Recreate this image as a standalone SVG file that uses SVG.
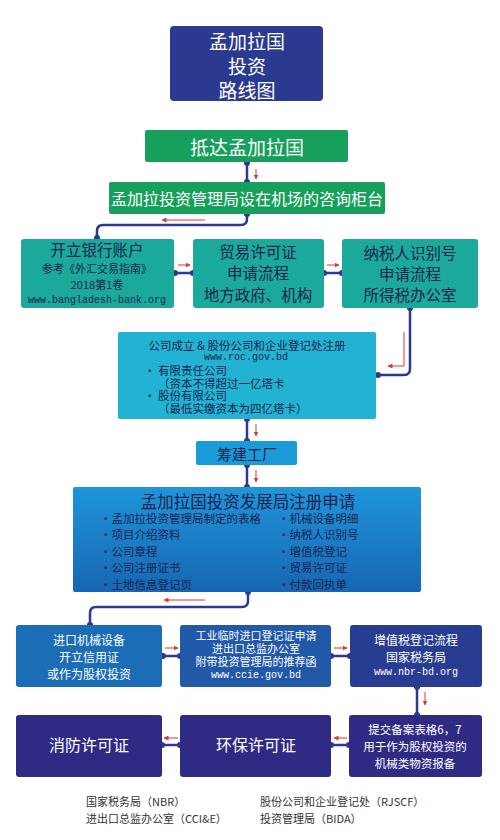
<svg xmlns="http://www.w3.org/2000/svg" width="500" height="840" viewBox="0 0 500 840">
<style>
text{font-family:"Noto Sans CJK SC","Liberation Sans",sans-serif;text-anchor:middle;dominant-baseline:central}
.w{fill:#ffffff}
.d{fill:#1b2550}
.m{font-family:"Liberation Mono","DejaVu Sans Mono",monospace}
.l{text-anchor:start}
.cn{fill:none;stroke:#2b3990;stroke-width:2.5}
.dot{fill:#2b3990}
.ra{fill:none;stroke:#d63a3a;stroke-width:1;marker-end:url(#ah)}
</style>
<defs>
<marker id="ah" viewBox="0 0 10 10" refX="9" refY="5" markerWidth="5" markerHeight="5" orient="auto">
<path d="M0,0 L10,5 L0,10 z" fill="#d63a3a"/>
</marker>
<linearGradient id="bg" x1="0" y1="0" x2="0" y2="1">
<stop offset="0" stop-color="#1f95da"/>
<stop offset="1" stop-color="#1766b2"/>
</linearGradient>
</defs>
<rect width="500" height="840" fill="#ffffff"/>

<g id="connectors">
<path class="cn" d="M247,162 V182"/>
<circle class="dot" cx="247" cy="163" r="3"/><circle class="dot" cx="247" cy="182" r="3"/>
<path class="cn" d="M247,214 V219 Q247,225 241,225 H103 Q97,225 97,231 V239"/>
<circle class="dot" cx="247" cy="214" r="3"/><circle class="dot" cx="97" cy="238" r="3"/>
<path class="cn" d="M174,273 H194"/>
<circle class="dot" cx="175" cy="273" r="3"/><circle class="dot" cx="193" cy="273" r="3"/>
<path class="cn" d="M323,273 H342"/>
<circle class="dot" cx="324" cy="273" r="3"/><circle class="dot" cx="342" cy="273" r="3"/>
<path class="cn" d="M410,308 V369 Q410,375 404,375 H378"/>
<circle class="dot" cx="410" cy="308" r="3"/><circle class="dot" cx="378" cy="375" r="3"/>
<path class="cn" d="M247,419 V441"/>
<circle class="dot" cx="247" cy="419" r="3"/><circle class="dot" cx="247" cy="441" r="3"/>
<path class="cn" d="M247,465 V487"/>
<circle class="dot" cx="247" cy="465" r="3"/><circle class="dot" cx="247" cy="487" r="3"/>
<path class="cn" d="M248,592 V601 Q248,607 242,607 H96 Q90,607 90,613 V625"/>
<circle class="dot" cx="248" cy="592" r="3"/><circle class="dot" cx="90" cy="625" r="3"/>
<path class="cn" d="M162,656 H180"/>
<circle class="dot" cx="163" cy="656" r="3"/><circle class="dot" cx="180" cy="656" r="3"/>
<path class="cn" d="M331,656 H350"/>
<circle class="dot" cx="331" cy="656" r="3"/><circle class="dot" cx="350" cy="656" r="3"/>
<path class="cn" d="M417,687 V715"/>
<circle class="dot" cx="417" cy="687" r="3"/><circle class="dot" cx="417" cy="715" r="3"/>
<path class="cn" d="M331,745 H349"/>
<circle class="dot" cx="331" cy="745" r="3"/><circle class="dot" cx="349" cy="745" r="3"/>
<path class="cn" d="M162,745 H180"/>
<circle class="dot" cx="162" cy="745" r="3"/><circle class="dot" cx="180" cy="745" r="3"/>

<path class="ra" d="M256,169 V179"/>
<path class="ra" d="M205,220 H162"/>
<path class="ra" d="M178,265 H190"/>
<path class="ra" d="M327,265 H339"/>
<path class="ra" d="M404,332 V366 H388"/>
<path class="ra" d="M256,424 V436"/>
<path class="ra" d="M256,470 V482"/>
<path class="ra" d="M205,600 H164"/>
<path class="ra" d="M165,648 H178"/>
<path class="ra" d="M334,648 H347"/>
<path class="ra" d="M425,692 V705"/>
<path class="ra" d="M347,738 H334"/>
<path class="ra" d="M178,738 H164"/>
</g>

<g id="title">
<rect x="170" y="26" width="153" height="75" rx="4" fill="#2b3990"/>
<text class="w" x="247" y="40" font-size="19">孟加拉国</text>
<text class="w" x="247" y="65" font-size="19">投资</text>
<text class="w" x="247" y="89" font-size="19">路线图</text>
</g>

<g id="arrive">
<rect x="145" y="130" width="203" height="32" rx="2" fill="#17a05c"/>
<text class="w" x="247" y="146" font-size="19">抵达孟加拉国</text>
</g>

<g id="counter">
<rect x="109" y="182" width="276" height="32" rx="2" fill="#17a05c"/>
<text class="w" x="247" y="198" font-size="16">孟加拉投资管理局设在机场的咨询柜台</text>
</g>

<g id="bank">
<rect x="21" y="239" width="153" height="69" rx="3" fill="#1aa99a"/>
<text class="d" x="97" y="249" font-size="15.5">开立银行账户</text>
<text class="d" x="97" y="268" font-size="11">参考《外汇交易指南》</text>
<text class="d" x="97" y="284" font-size="11">2018第1卷</text>
<text class="d m" x="97" y="300" font-size="10">www.bangladesh-bank.org</text>
</g>

<g id="trade">
<rect x="193" y="239" width="131" height="69" rx="3" fill="#1aa99a"/>
<text class="d" x="258" y="251" font-size="15.5">贸易许可证</text>
<text class="d" x="258" y="272" font-size="15.5">申请流程</text>
<text class="d" x="258" y="294" font-size="15.5">地方政府、机构</text>
</g>

<g id="tin">
<rect x="342" y="239" width="136" height="69" rx="3" fill="#1aa99a"/>
<text class="d" x="410" y="252" font-size="15.5">纳税人识别号</text>
<text class="d" x="410" y="273" font-size="15.5">申请流程</text>
<text class="d" x="410" y="294" font-size="15.5">所得税办公室</text>
</g>

<g id="company">
<rect x="118" y="332" width="258" height="87" rx="2" fill="#22b3d2"/>
<text class="d" x="247" y="345" font-size="11.5">公司成立 &amp; 股份公司和企业登记处注册</text>
<text class="d m" x="246" y="357.5" font-size="10">www.roc.gov.bd</text>
<text class="d l" x="144" y="370" font-size="11.5">•  有限责任公司</text>
<text class="d l" x="158" y="382.5" font-size="11.5">（资本不得超过一亿塔卡</text>
<text class="d l" x="144" y="395" font-size="11.5">•  股份有限公司</text>
<text class="d l" x="158" y="407.5" font-size="11.5">（最低实缴资本为四亿塔卡）</text>
</g>

<g id="factory">
<rect x="196" y="441" width="101" height="24" rx="2" fill="#1b9ad8"/>
<text class="d" x="247" y="453" font-size="15">筹建工厂</text>
</g>

<g id="bida">
<rect x="73" y="487" width="348" height="105" rx="2" fill="url(#bg)"/>
<text class="d" x="248" y="501" font-size="16.5">孟加拉国投资发展局注册申请</text>
<text class="d l" x="100" y="517.5" font-size="11.5">•孟加拉投资管理局制定的表格</text>
<text class="d l" x="100" y="534" font-size="11.5">•项目介绍资料</text>
<text class="d l" x="100" y="550.5" font-size="11.5">•公司章程</text>
<text class="d l" x="100" y="567" font-size="11.5">•公司注册证书</text>
<text class="d l" x="100" y="583.5" font-size="11.5">•土地信息登记页</text>
<text class="d l" x="278" y="517.5" font-size="11.5">•机械设备明细</text>
<text class="d l" x="278" y="534" font-size="11.5">•纳税人识别号</text>
<text class="d l" x="278" y="550.5" font-size="11.5">•增值税登记</text>
<text class="d l" x="278" y="567" font-size="11.5">•贸易许可证</text>
<text class="d l" x="278" y="583.5" font-size="11.5">•付款回执单</text>
</g>

<g id="import">
<rect x="16" y="625" width="146" height="62" rx="3" fill="#1b6db6"/>
<text class="w" x="89" y="639" font-size="12">进口机械设备</text>
<text class="w" x="89" y="656" font-size="12">开立信用证</text>
<text class="w" x="89" y="673" font-size="12">或作为股权投资</text>
</g>

<g id="ccie">
<rect x="180" y="625" width="151" height="62" rx="3" fill="#2158a8"/>
<text class="w" x="256" y="635" font-size="11">工业临时进口登记证申请</text>
<text class="w" x="256" y="648" font-size="11">进出口总监办公室</text>
<text class="w" x="256" y="661" font-size="11">附带投资管理局的推荐函</text>
<text class="w m" x="256" y="675" font-size="10">www.ccie.gov.bd</text>
</g>

<g id="vat">
<rect x="350" y="625" width="132" height="62" rx="3" fill="#283d92"/>
<text class="w" x="416" y="639" font-size="12">增值税登记流程</text>
<text class="w" x="416" y="656" font-size="12">国家税务局</text>
<text class="w m" x="416" y="672" font-size="10">www.nbr-bd.org</text>
</g>

<g id="fire">
<rect x="16" y="715" width="146" height="62" rx="3" fill="#2f2b85"/>
<text class="w" x="89" y="744" font-size="16">消防许可证</text>
</g>

<g id="env">
<rect x="180" y="715" width="151" height="62" rx="3" fill="#2f2b85"/>
<text class="w" x="256" y="744" font-size="16">环保许可证</text>
</g>

<g id="filing">
<rect x="349" y="715" width="133" height="62" rx="3" fill="#2f2b85"/>
<text class="w" x="415" y="729" font-size="11.5">提交备案表格6，7</text>
<text class="w" x="415" y="746" font-size="11.5">用于作为股权投资的</text>
<text class="w" x="415" y="763" font-size="11.5">机械类物资报备</text>
</g>

<g id="legend">
<text class="l" x="86" y="801" font-size="11" fill="#333">国家税务局（NBR）</text>
<text class="l" x="86" y="818" font-size="11" fill="#333">进出口总监办公室（CCI&amp;E）</text>
<text class="l" x="260" y="801" font-size="11" fill="#333">股份公司和企业登记处（RJSCF）</text>
<text class="l" x="260" y="818" font-size="11" fill="#333">投资管理局（BIDA）</text>
</g>
</svg>
